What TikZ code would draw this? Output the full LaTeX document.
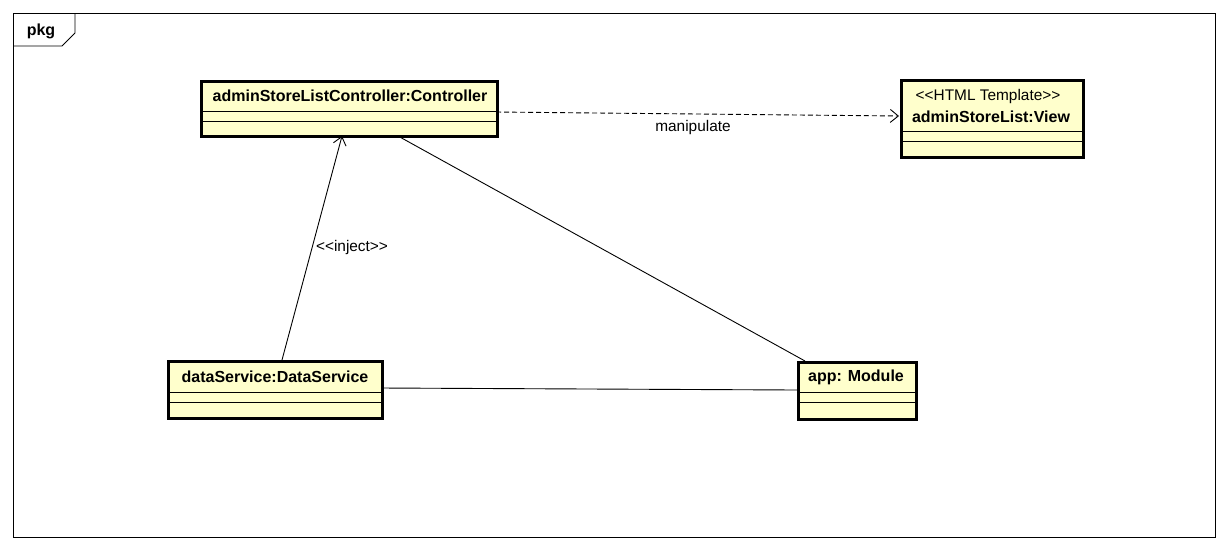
\documentclass[tikz,border=0pt]{standalone}
\usepackage{fontspec}
\setmainfont{Liberation Sans}[Ligatures=TeXOff]
\usetikzlibrary{arrows.meta,calc}
\definecolor{classfill}{HTML}{FFFFCC}
\tikzset{
  classbox/.style={draw=black, line width=2.6pt, fill=classfill, rectangle,
    inner sep=0pt, anchor=north west},
  sepline/.style={draw=black, line width=0.8pt},
  conn/.style={draw=black, line width=0.9pt},
  openhead/.style={-{Straight Barb[length=8pt,width=13pt,line width=0.9pt]}},
  nametext/.style={font=\fontsize{16}{19}\selectfont\bfseries, inner sep=0pt},
  plaintext/.style={font=\fontsize{15.4}{18}\selectfont, inner sep=0pt},
}
\begin{document}
\begin{tikzpicture}[x=1pt,y=-1pt]
\useasboundingbox (0,0) rectangle (1228,550);
\fill[white] (0,0) rectangle (1228,550);
% package frame and its name tab
\draw[line width=0.9pt] (13,13) rectangle (1215,537);
\draw[line width=0.9pt] (13,46) -- (62,46) -- (75,33) -- (75,13);
\node[inner sep=0pt, font=\fontsize{16}{19}\selectfont\bfseries] (pkgname) at (41,31) {pkg};

% class boxes
\node[classbox, minimum width=296pt, minimum height=55pt] (ctrl) at (200,80) {};
\node[classbox, minimum width=182pt, minimum height=77pt] (view) at (900,79) {};
\node[classbox, minimum width=214pt, minimum height=57pt] (data) at (167,360) {};
\node[classbox, minimum width=118pt, minimum height=57pt] (app) at (797,361) {};

% compartment separators
\draw[sepline] ($(ctrl.north west)+(0,31)$) -- ($(ctrl.north east)+(0,31)$);
\draw[sepline] ($(ctrl.north west)+(0,41)$) -- ($(ctrl.north east)+(0,41)$);
\draw[sepline] ($(view.north west)+(0,52)$) -- ($(view.north east)+(0,52)$);
\draw[sepline] ($(view.north west)+(0,62)$) -- ($(view.north east)+(0,62)$);
\draw[sepline] ($(data.north west)+(0,32)$) -- ($(data.north east)+(0,32)$);
\draw[sepline] ($(data.north west)+(0,42)$) -- ($(data.north east)+(0,42)$);
\draw[sepline] ($(app.north west)+(0,31)$) -- ($(app.north east)+(0,31)$);
\draw[sepline] ($(app.north west)+(0,41)$) -- ($(app.north east)+(0,41)$);

% class names
\node[nametext] (ctrlname) at (350,96) {adminStoreListController:Controller};
\node[plaintext] (viewster) at (988,97) {<<HTML Template>>};
\node[nametext] (viewname) at (991,117) {adminStoreList:View};
\node[nametext] (dataname) at (275,377) {dataService:DataService};
\node[nametext] (appname) at (856,377) {app: Module};

% anchor points for the connectors
\coordinate (mfrom) at (496,112);
\coordinate (mto) at (899,116);
\coordinate (ifrom) at (282,360);
\coordinate (ito) at (342,136);
\coordinate (afrom) at (398,136);
\coordinate (ato) at (805,361);
\coordinate (dfrom) at (381,388);
\coordinate (dto) at (797,390);

% connectors
\draw[conn, dashed, dash pattern=on 5pt off 3pt, openhead] (mfrom) -- (mto);
\node[plaintext] (manip) at (693,128) {manipulate};
\draw[conn, openhead] (ifrom) -- (ito);
\node[plaintext] (inject) at (352,248) {<<inject>>};
\draw[conn] (afrom) -- (ato);
\draw[conn] (dfrom) -- (dto);
\end{tikzpicture}
\end{document}
